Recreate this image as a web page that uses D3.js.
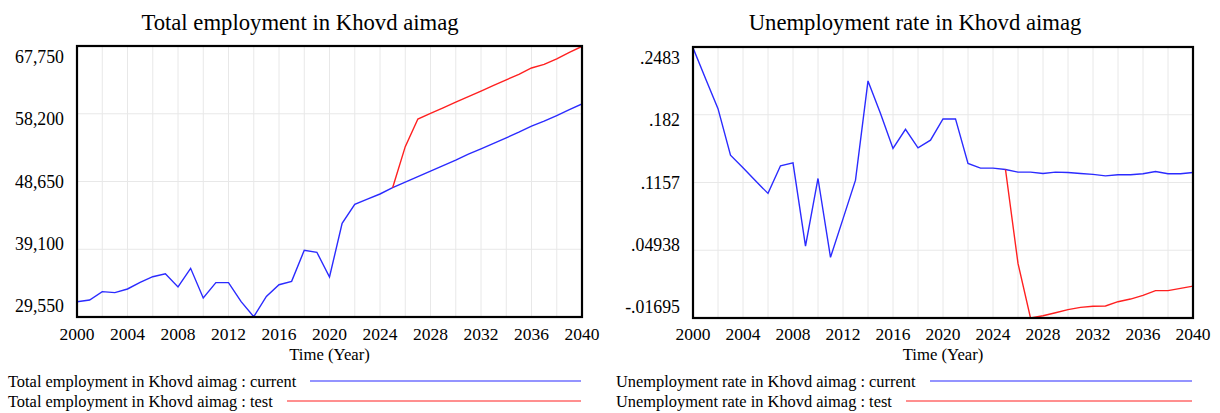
<!DOCTYPE html>
<html><head><meta charset="utf-8">
<script src="https://cdn.jsdelivr.net/npm/d3@7"></script>
<style>
html,body{margin:0;padding:0;background:#fff;}
svg text{font-family:"Liberation Serif","Times New Roman",serif;fill:#000;}
</style></head>
<body><svg id="c" width="1220" height="413"></svg>
<script>
const years = d3.range(2000, 2041);
const testStartYear = 2025;
const xTickLabels = [2000,2004,2008,2012,2016,2020,2024,2028,2032,2036,2040];

const empCurrent = [31700,31950,33120,32980,33500,34440,35230,35650,33780,36410,
  32230,34390,34390,31710,29590,32450,34100,34580,38950,38670,
  35190,42750,45430,46180,46890,47780,48550,49330,50100,50880,
  51650,52500,53260,54030,54800,55600,56450,57150,57950,58780,59580];
const empTest = [47780,53560,57460,58250,59040,59830,60610,61400,62190,62980,
  63760,64650,65150,65950,66850,67700];
const empTicks = [29550,39100,48650,58200,67750];
const empTickLabels = ["29,550","39,100","48,650","58,200","67,750"];

const unempCurrent = [0.2475,0.2175,0.188,0.1424,0.130,0.1173,0.1050,0.1320,0.1349,0.0534,
  0.1196,0.0424,0.0801,0.1180,0.2151,0.1832,0.1490,0.1677,0.1496,0.1571,
  0.1779,0.1779,0.1343,0.1297,0.1297,0.1284,0.1258,0.1258,0.1245,0.1258,
  0.1255,0.1245,0.1236,0.1222,0.1232,0.1232,0.1242,0.1265,0.1242,0.1242,0.1255];
const unempTest = [0.1284,0.0365,-0.0169,-0.0147,-0.0118,-0.0088,-0.0065,-0.0055,-0.0052,-0.0010,
  0.0016,0.0052,0.0098,0.0098,0.0121,0.0143];
const unempTicks = [-0.01695,0.04938,0.1157,0.182,0.2483];
const unempTickLabels = ["-.01695",".04938",".1157",".182",".2483"];

const panels = [
  {title:"Total employment in Khovd aimag", cx:300, left:77, right:582, top:46, bottom:317,
   cur:empCurrent, test:empTest, ticks:empTicks, labels:empTickLabels, labelRight:64,
   legCur:"Total employment in Khovd aimag : current", legTest:"Total employment in Khovd aimag : test",
   legX:8, legEnd:581, legCurStart:310, legTestStart:287},
  {title:"Unemployment rate in Khovd aimag", cx:915, left:693, right:1193, top:47, bottom:318,
   cur:unempCurrent, test:unempTest, ticks:unempTicks, labels:unempTickLabels, labelRight:680,
   legCur:"Unemployment rate in Khovd aimag : current", legTest:"Unemployment rate in Khovd aimag : test",
   legX:616, legEnd:1192, legCurStart:930, legTestStart:906}
];

const svg = d3.select("#c");

panels.forEach((p, pi) => {
  const g = svg.append("g");
  const x = d3.scaleLinear().domain([2000, 2040]).range([p.left, p.right]);
  const y = d3.scaleLinear().domain([p.ticks[0], p.ticks[p.ticks.length-1]]).range([p.bottom, p.top]);
  const labelY = d3.scaleLinear().domain([0, p.ticks.length-1]).range([p.bottom-11, p.top+11]);

  g.append("text").attr("x", p.cx).attr("y", 30).attr("text-anchor","middle")
    .style("font-size","22.7px").text(p.title);

  const clipId = "clip"+pi;
  g.append("clipPath").attr("id", clipId).append("rect")
    .attr("x", p.left).attr("y", p.top).attr("width", p.right-p.left).attr("height", p.bottom-p.top);

  g.append("g").selectAll("line").data(d3.range(2002, 2040, 2)).join("line")
    .attr("x1", d=>x(d)).attr("x2", d=>x(d)).attr("y1", p.top).attr("y2", p.bottom)
    .attr("stroke", "#e8e8e8").attr("stroke-width", 1);
  g.append("g").selectAll("line").data(p.ticks.slice(1, -1)).join("line")
    .attr("x1", p.left).attr("x2", p.right).attr("y1", d=>y(d)).attr("y2", d=>y(d))
    .attr("stroke", "#e8e8e8").attr("stroke-width", 1);

  g.append("g").selectAll("text").data(p.labels).join("text")
    .attr("x", p.labelRight).attr("y", (d,i)=>labelY(i)).attr("dy","0.35em")
    .attr("text-anchor","end").style("font-size","17.8px").text(d=>d);

  g.append("g").selectAll("text").data(xTickLabels).join("text")
    .attr("x", d=>x(d)).attr("y", 334).attr("dy","0.35em")
    .attr("text-anchor","middle").style("font-size","17.5px").text(d=>d);

  g.append("text").attr("x", (p.left+p.right)/2).attr("y", 354).attr("dy","0.35em")
    .attr("text-anchor","middle").style("font-size","16.7px").text("Time (Year)");

  const line = d3.line().x(d=>x(d[0])).y(d=>y(d[1]));
  const curPts = years.map((yr,i)=>[yr, p.cur[i]]);
  const testPts = p.test.map((v,i)=>[testStartYear+i, v]);

  const lg = g.append("g").attr("clip-path", `url(#${clipId})`);
  lg.append("path").attr("d", line(curPts)).attr("fill","none")
    .attr("stroke","#2b2bff").attr("stroke-width",1.4);
  lg.append("path").attr("d", line(testPts)).attr("fill","none")
    .attr("stroke","#ff2020").attr("stroke-width",1.4);

  g.append("rect").attr("x", p.left).attr("y", p.top)
    .attr("width", p.right-p.left).attr("height", p.bottom-p.top)
    .attr("fill","none").attr("stroke","#000").attr("stroke-width",2.2);

  const l1 = 381, l2 = 401;
  g.append("text").attr("x", p.legX).attr("y", l1).attr("dy","0.35em")
    .style("font-size","16.4px").text(p.legCur);
  g.append("text").attr("x", p.legX).attr("y", l2).attr("dy","0.35em")
    .style("font-size","16.4px").text(p.legTest);
  g.append("line").attr("x1", p.legCurStart).attr("x2", p.legEnd).attr("y1", l1).attr("y2", l1)
    .attr("stroke","#2b2bff").attr("stroke-width",1.2);
  g.append("line").attr("x1", p.legTestStart).attr("x2", p.legEnd).attr("y1", l2).attr("y2", l2)
    .attr("stroke","#ff2020").attr("stroke-width",1.2);
});
</script></body></html>
